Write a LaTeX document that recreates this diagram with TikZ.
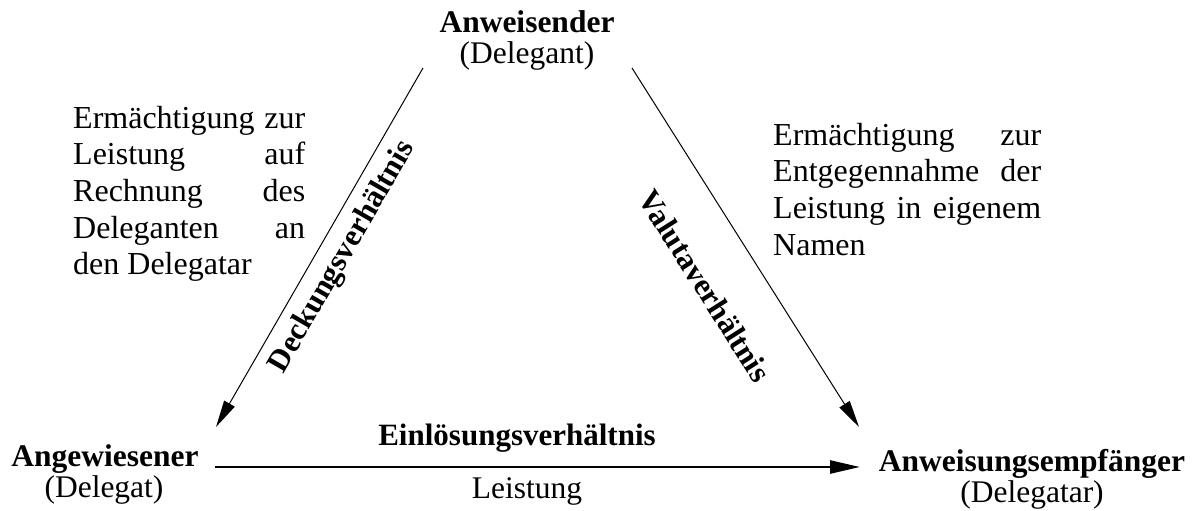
\documentclass[tikz,border=0pt]{standalone}
\usepackage{fontspec}
\setmainfont{Liberation Serif}
\usetikzlibrary{arrows.meta}
\begin{document}
\begin{tikzpicture}[x=1pt,y=-1pt,
  every node/.style={inner sep=0pt, font=\fontsize{31.5}{36.7}\selectfont},
  partyname/.style={font=\fontsize{31.5}{36.7}\selectfont\bfseries, anchor=base},
  partysub/.style={anchor=base},
  rellabel/.style={font=\fontsize{31}{36.7}\selectfont\bfseries},
  thinarrow/.style={line width=1pt, -{Triangle[length=27pt,width=12pt]}},
  thickarrow/.style={line width=2.6pt, -{Triangle[length=30pt,width=13pt]}},
  para/.style={anchor=base west, align=left, font=\fontsize{32}{36.7}\selectfont}
]
\useasboundingbox (0,0) rectangle (1192,511);
% parties
\node[partyname] (anw) at (527,33) {Anweisender};
\node[partysub] (anwsub) at (527,64) {(Delegant)};
\node[partyname] (angew) at (105,466) {Angewiesener};
\node[partysub] (angewsub) at (104,497) {(Delegat)};
\node[partyname] (empf) at (1032,471) {Anweisungsempfänger};
\node[partysub] (empfsub) at (1032,502) {(Delegatar)};
% connector end points
\coordinate (dS) at (423,68);
\coordinate (dE) at (216,427);
\coordinate (vS) at (632,68);
\coordinate (vE) at (859,427);
\coordinate (eS) at (215,467);
\coordinate (eE) at (860,467);
\draw[thinarrow] (dS) -- (dE);
\draw[thinarrow] (vS) -- (vE);
\draw[thickarrow] (eS) -- (eE);
% relation labels
\node[rellabel, rotate=60] (deck) at (343,257) {Deckungsverhältnis};
\node[rellabel, rotate=-57.7] (valu) at (705,286) {Valutaverhältnis};
\node[rellabel, anchor=base] (einl) at (517,445) {Einlösungsverhältnis};
\node[anchor=base] (leist) at (527,498) {Leistung};
% paragraphs (anchored at the baseline of their last line)
\node[para] (leftpara) at (73,274.8) {%
  \hbox to 232pt{Ermächtigung\hfill zur}\\
  \hbox to 232pt{Leistung\hfill auf}\\
  \hbox to 232pt{Rechnung\hfill des}\\
  \hbox to 232pt{Deleganten\hfill an}\\
  den Delegatar};
\node[para] (rightpara) at (773,255.1) {%
  \hbox to 268pt{Ermächtigung\hfill zur}\\
  \hbox to 268pt{Entgegennahme\hfill der}\\
  \hbox to 268pt{Leistung\hfill in\hfill eigenem}\\
  Namen};
\end{tikzpicture}
\end{document}
